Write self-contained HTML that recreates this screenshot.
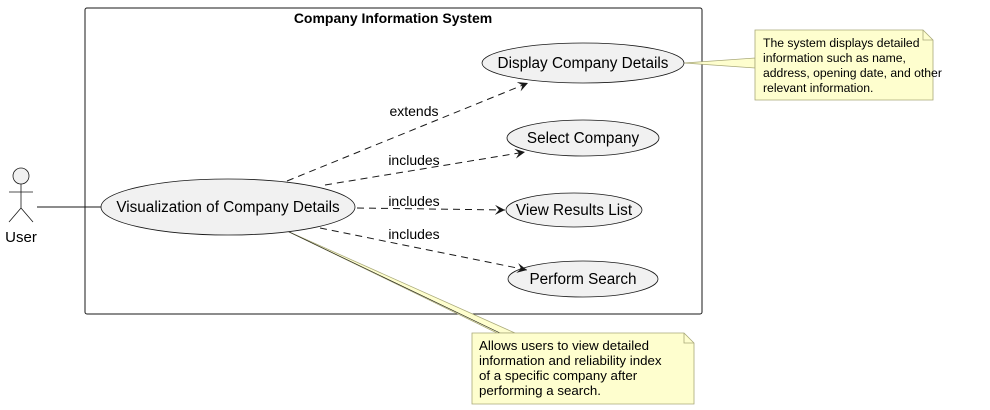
<!DOCTYPE html>
<html><head><style>body{margin:0;background:#fff}svg{display:block}text{font-family:"Liberation Sans","DejaVu Sans",sans-serif}</style></head><body>
<svg width="990" height="410" viewBox="0 0 990 410" xmlns="http://www.w3.org/2000/svg">
<defs><marker id="a" markerWidth="12" markerHeight="10" refX="10" refY="5" orient="auto" markerUnits="userSpaceOnUse"><path d="M0,0 L10,5 L0,10 L4,5 Z" fill="#181818"/></marker></defs>
<rect x="85" y="8" width="617" height="306" rx="2" fill="none" stroke="#181818" stroke-width="1"/>
<text x="393" y="23" font-size="14" font-weight="bold" text-anchor="middle" fill="#000">Company Information System</text>
<circle cx="21" cy="176" r="8" fill="#f1f1f1" stroke="#181818" stroke-width="0.8"/>
<path d="M21,184 V208 M9,192 H33 M21,208 L9,222 M21,208 L33,222" stroke="#181818" stroke-width="0.8" fill="none"/>
<text x="21" y="242" font-size="15" text-anchor="middle">User</text>
<line x1="37" y1="207" x2="101" y2="207" stroke="#181818"/>
<path d="M684,63 L755,58 L755,68 Z" fill="#fefece" stroke="#a8a878" stroke-width="0.7"/>
<path d="M285,230 L497,333 L515,333 Z" fill="#fefece" stroke="#a8a878" stroke-width="0.7"/>
<line x1="285" y1="230" x2="500" y2="333" stroke="#181818" stroke-width="0.6"/>
<ellipse cx="228" cy="207" rx="127" ry="28" fill="#f1f1f1" stroke="#181818" stroke-width="0.8"/>
<text x="228" y="212" font-size="15.3" text-anchor="middle">Visualization of Company Details</text>
<ellipse cx="583" cy="63" rx="101" ry="20" fill="#f1f1f1" stroke="#181818" stroke-width="0.8"/>
<text x="583" y="68" font-size="15.3" text-anchor="middle">Display Company Details</text>
<ellipse cx="583" cy="138" rx="76" ry="18" fill="#f1f1f1" stroke="#181818" stroke-width="0.8"/>
<text x="583" y="143" font-size="15.3" text-anchor="middle">Select Company</text>
<ellipse cx="574" cy="210" rx="68" ry="17" fill="#f1f1f1" stroke="#181818" stroke-width="0.8"/>
<text x="574" y="215" font-size="15.3" text-anchor="middle">View Results List</text>
<ellipse cx="583" cy="279" rx="75" ry="18" fill="#f1f1f1" stroke="#181818" stroke-width="0.8"/>
<text x="583" y="284" font-size="15.3" text-anchor="middle">Perform Search</text>
<g stroke="#181818" stroke-dasharray="7,5" fill="none" marker-end="url(#a)">
<line x1="287" y1="181" x2="528" y2="83"/>
<line x1="325" y1="185" x2="525" y2="152"/>
<line x1="357" y1="208" x2="505" y2="210"/>
<line x1="320" y1="228" x2="527" y2="270"/>
</g>
<g font-size="14" text-anchor="middle">
<text x="414" y="116">extends</text>
<text x="414" y="165">includes</text>
<text x="414" y="206">includes</text>
<text x="414" y="239">includes</text>
</g>
<path d="M755,30 H923 L933,40 V100 H755 Z" fill="#fefece" stroke="#a8a878" stroke-width="0.8"/>
<path d="M923,30 V40 H933" fill="none" stroke="#a8a878" stroke-width="0.8"/>
<g font-size="12.2"><text x="763" y="47">The system displays detailed</text><text x="763" y="62">information such as name,</text><text x="763" y="77">address, opening date, and other</text><text x="763" y="92">relevant information.</text></g>
<path d="M472,333 H684 L694,343 V404 H472 Z" fill="#fefece" stroke="#a8a878" stroke-width="0.8"/>
<path d="M684,333 V343 H694" fill="none" stroke="#a8a878" stroke-width="0.8"/>
<g font-size="13.3"><text x="479" y="350">Allows users to view detailed</text><text x="479" y="365">information and reliability index</text><text x="479" y="380">of a specific company after</text><text x="479" y="395">performing a search.</text></g>
</svg>
</body></html>
